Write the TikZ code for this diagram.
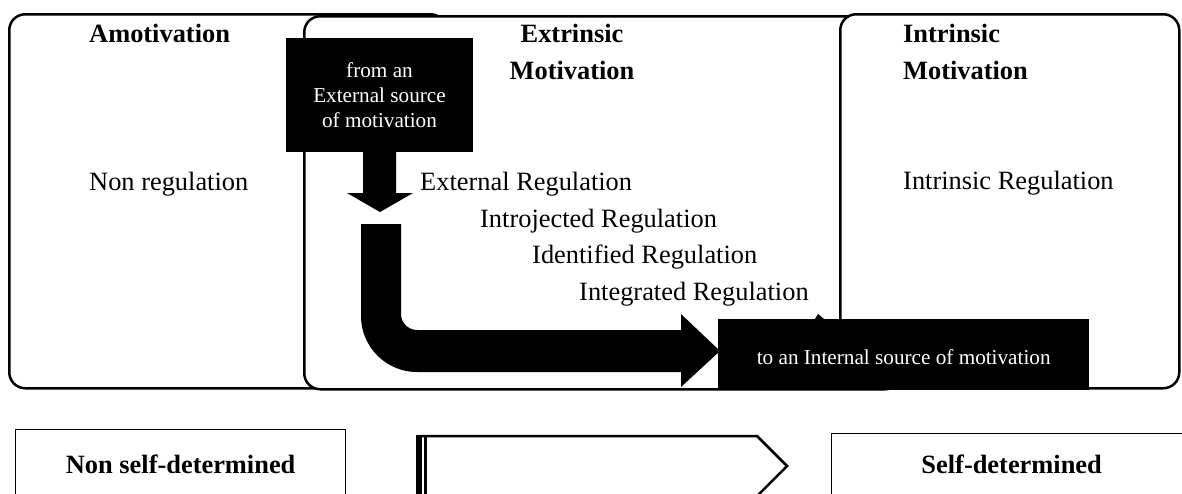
\documentclass[tikz,border=0pt]{standalone}
\usepackage{fontspec}
\setmainfont{Liberation Serif}
\usetikzlibrary{calc}
\begin{document}
\begin{tikzpicture}[x=1pt,y=-1pt,
  roundbox/.style={draw, line width=2.5pt, rounded corners=16pt, fill=white, inner sep=0pt, anchor=north west},
  plainbox/.style={draw, line width=1.3pt, fill=white, inner sep=0pt},
  blackbox/.style={fill=black, text=white, inner sep=0pt, align=center},
  big/.style={font=\fontsize{26.4}{37}\selectfont},
  bigb/.style={font=\fontsize{26.4}{37}\selectfont\bfseries},
  small/.style={font=\fontsize{21.2}{25}\selectfont},
  lbl/.style={big, anchor=base west, inner sep=0pt}
]
\useasboundingbox (0,0) rectangle (1182,493);

% three motivation panels
\node[roundbox, minimum width=437pt, minimum height=374pt] (amot) at (8,13) {};
\node[roundbox, minimum width=597pt, minimum height=373pt] (extr) at (303,15) {};
\node[roundbox, minimum width=339pt, minimum height=374pt] (intr) at (839,13) {};

% titles
\node[bigb, anchor=base west, inner sep=0pt] (tamot) at (89,42) {Amotivation};
\node[bigb, anchor=base, inner sep=0pt, align=center] (textr) at (572,79) {Extrinsic\\Motivation};
\node[bigb, anchor=base west, inner sep=0pt, align=left] (tintr) at (903,79) {Intrinsic\\Motivation};

% regulations
\node[lbl] (nonreg) at (89,190) {Non regulation};
\node[lbl] (extreg) at (420,190) {External Regulation};
\node[lbl] (introreg) at (480,227) {Introjected Regulation};
\node[lbl] (identreg) at (532,263) {Identified Regulation};
\node[lbl] (integreg) at (579,300) {Integrated Regulation};
\node[lbl] (intrreg) at (903,189) {Intrinsic Regulation};

% source box
\node[blackbox, small, minimum width=187pt, minimum height=114pt] (src) at (379.5,95) {from an\\External source\\of motivation};
\coordinate (tgtw) at (718,354.5);

% down arrow
\fill ($(src.south)+(-16.5,0)$) -- ($(src.south)+(16.5,0)$) -- (396,193) -- (413,193) -- (380,212) -- (347,193) -- (363,193) -- cycle;

% bent arrow
\fill (361,224) -- (401,224) -- (401,314) .. controls (401,322.8) and (408.2,330) .. (417,330)
  -- (681,330) -- (681,314) -- ($(tgtw)+(2,-3.5)$) -- (681,387) -- (681,372) -- (417,372)
  .. controls (386.1,372) and (361,346.9) .. (361,316) -- cycle;
\fill (815,319) -- (818,314) -- (824,319) -- cycle;

% target box
\node[blackbox, small, minimum width=371pt, minimum height=71pt, anchor=west] (tgt) at (tgtw) {\raisebox{-9.5pt}[0pt][0pt]{to an Internal source of motivation}};

% bottom row
\node[plainbox, bigb, minimum width=330pt, minimum height=70pt, anchor=north west] (nonsd) at (15,429) {Non self-determined};
\node[plainbox, bigb, minimum width=360pt, minimum height=62pt, anchor=north west] (sd) at (831,433) {Self-determined};
\draw[line width=2.5pt, line join=miter] (420,436) -- (757,436) -- (787,466) -- (757,496) -- (420,496);
\draw[line width=6pt] (419,434.75) -- (419,500);
\draw[line width=3pt] (425.5,434.75) -- (425.5,500);
\end{tikzpicture}
\end{document}
